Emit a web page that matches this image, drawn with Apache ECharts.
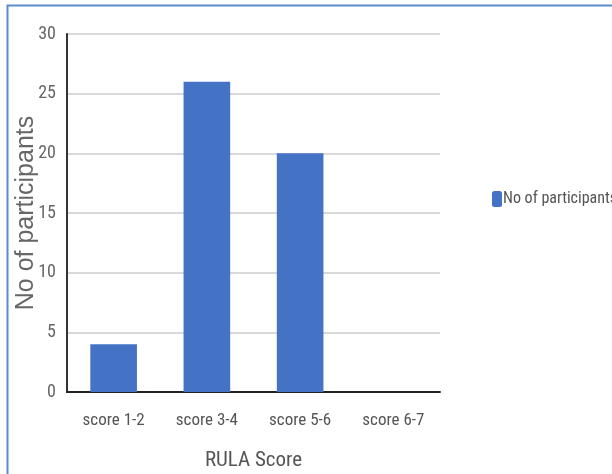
<!DOCTYPE html>
<html>
<head>
<meta charset="utf-8">
<script src="https://cdn.jsdelivr.net/npm/echarts@6/dist/echarts.min.js"></script>
<style>
  html, body { margin: 0; padding: 0; background: #fff; }
  #chart { width: 612px; height: 474px; }
</style>
</head>
<body>
<div id="chart"></div>
<script>
// RULA score groups and number of participants in each
const categories = ['score 1-2', 'score 3-4', 'score 5-6', 'score 6-7'];
const participants = [4, 26, 20, 0];
const seriesName = 'No of participants';

const narrow = '"Liberation Sans Narrow", "Arial Narrow", "Roboto Condensed", sans-serif';

const chart = echarts.init(document.getElementById('chart'), null, { renderer: 'canvas' });
chart.setOption({
  animation: false,
  backgroundColor: '#fff',
  graphic: [{
    type: 'rect',
    shape: { x: 7.5, y: 5.5, width: 640, height: 500 },
    style: { fill: 'none', stroke: '#5b8bd0', lineWidth: 2 },
    silent: true
  }],
  grid: { left: 67, right: 172, top: 34, bottom: 82, containLabel: false, outerBoundsMode: 'none' },
  legend: {
    data: [seriesName],
    orient: 'vertical',
    left: 487, top: 186,
    itemWidth: 10, itemHeight: 16, itemGap: 4,
    textStyle: { fontFamily: narrow, fontSize: 16, color: '#555', padding: [0, 0, 0, -4] }
  },
  xAxis: {
    type: 'category',
    data: categories,
    name: 'RULA Score',
    nameLocation: 'middle',
    nameGap: 58,
    nameMoveOverlap: false,
    nameTextStyle: { fontFamily: narrow, fontSize: 21, color: '#555' },
    axisLine: { lineStyle: { color: '#222', width: 2 } },
    axisTick: { show: false },
    axisLabel: { fontFamily: narrow, fontSize: 17, color: '#555', margin: 20 }
  },
  yAxis: {
    type: 'value',
    min: 0, max: 30, interval: 5,
    name: 'No of participants',
    nameLocation: 'middle',
    nameGap: 28,
    nameMoveOverlap: false,
    nameTextStyle: { fontFamily: 'Liberation Sans, Arial, sans-serif', fontSize: 25, color: '#666' },
    axisLine: { show: true, lineStyle: { color: '#333', width: 2 } },
    axisTick: { show: false },
    axisLabel: { fontFamily: narrow, fontSize: 18, color: '#666', margin: 11 },
    splitLine: { lineStyle: { color: '#d9d9d9', width: 2 } }
  },
  series: [{
    name: seriesName,
    type: 'bar',
    data: participants,
    barWidth: '50%',
    itemStyle: { color: '#4472c4' }
  }]
});
</script>
</body>
</html>
